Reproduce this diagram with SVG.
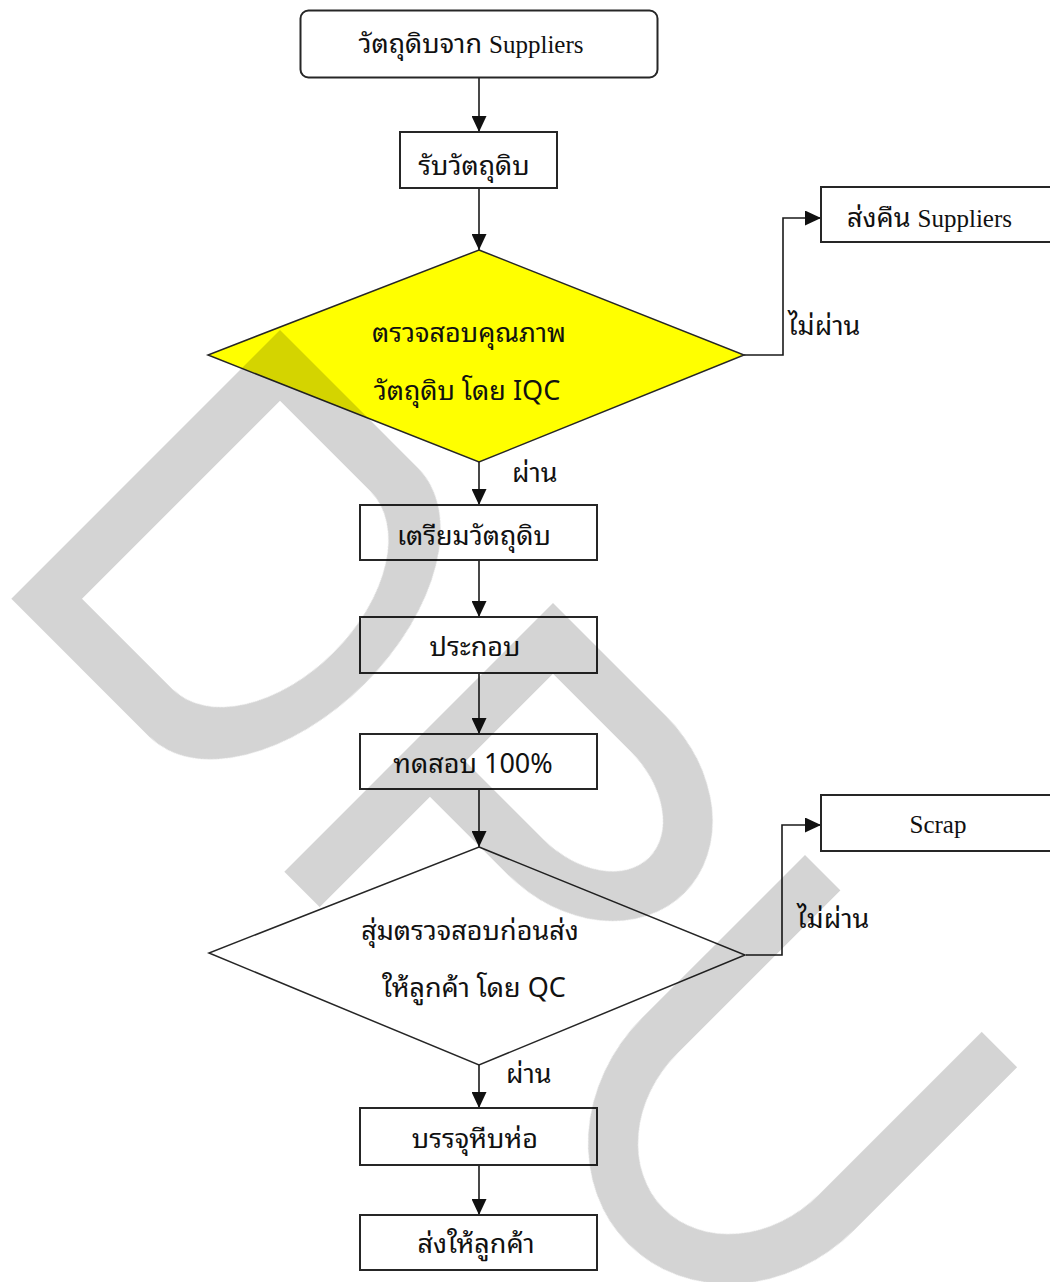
<svg xmlns="http://www.w3.org/2000/svg" width="1050" height="1282" viewBox="0 0 1050 1282">
  <defs>
    <marker id="arrow" markerUnits="userSpaceOnUse" markerWidth="16" markerHeight="15" refX="16" refY="7.5" orient="auto">
      <path d="M0,0 L16,7.5 L0,15 Z" fill="#111"/>
    </marker>
    <style>
      .box { fill: #ffffff; stroke: #262626; stroke-width: 2; }
      .dec { stroke: #262626; stroke-width: 1.5; }
      .wire { fill: none; stroke: #1a1a1a; stroke-width: 1.6; }
      .th { font-family: "Noto Sans Thai Looped", "Loma", "Garuda", "Noto Serif Thai", "Noto Sans Thai", "Noto Sans", sans-serif; font-size: 27px; fill: #111; }
      .lat { font-family: "Liberation Serif", serif; font-size: 25px; fill: #111; }
      .mid { text-anchor: middle; }
      .wm { fill: #d4d4d4; mix-blend-mode: multiply; }
    </style>
  </defs>

  <rect width="1050" height="1282" fill="#ffffff"/>

  <!-- connectors -->
  <g id="connectors">
    <path class="wire" d="M479,78 V132" marker-end="url(#arrow)"/>
    <path class="wire" d="M479,188 V250" marker-end="url(#arrow)"/>
    <path class="wire" d="M744,355 H783 V218 H821" marker-end="url(#arrow)"/>
    <path class="wire" d="M479,462 V505" marker-end="url(#arrow)"/>
    <path class="wire" d="M479,560 V617" marker-end="url(#arrow)"/>
    <path class="wire" d="M479,673 V734" marker-end="url(#arrow)"/>
    <path class="wire" d="M479,789 V847" marker-end="url(#arrow)"/>
    <path class="wire" d="M746,955 H782 V825 H821" marker-end="url(#arrow)"/>
    <path class="wire" d="M479,1065 V1108" marker-end="url(#arrow)"/>
    <path class="wire" d="M479,1165 V1215" marker-end="url(#arrow)"/>
    <text class="th" x="788" y="335">ไม่ผ่าน</text>
    <text class="th" x="512" y="482">ผ่าน</text>
    <text class="th" x="797" y="928">ไม่ผ่าน</text>
    <text class="th" x="506" y="1083">ผ่าน</text>
  </g>

  <!-- nodes -->
  <g id="start">
    <rect class="box" x="300.5" y="10.5" width="357" height="67" rx="8"/>
    <text class="th mid" x="471" y="53">วัตถุดิบจาก <tspan class="lat">Suppliers</tspan></text>
  </g>

  <g id="receive">
    <rect class="box" x="400" y="132" width="157" height="56"/>
    <text class="th mid" x="474" y="175">รับวัตถุดิบ</text>
  </g>

  <g id="iqc-check">
    <polygon class="dec" fill="#ffff00" points="479,250 744,355 479,462 208,355"/>
    <text class="th mid" x="469" y="342">ตรวจสอบคุณภาพ</text>
    <text class="th mid" x="467" y="400">วัตถุดิบ โดย IQC</text>
  </g>

  <g id="return-supplier">
    <rect class="box" x="821" y="187" width="260" height="55"/>
    <text class="th" x="847" y="227">ส่งคืน <tspan class="lat">Suppliers</tspan></text>
  </g>

  <g id="prepare">
    <rect class="box" x="360" y="505" width="237" height="55"/>
    <text class="th mid" x="474" y="545">เตรียมวัตถุดิบ</text>
  </g>

  <g id="assemble">
    <rect class="box" x="360" y="617" width="237" height="56"/>
    <text class="th mid" x="475" y="656">ประกอบ</text>
  </g>

  <g id="test">
    <rect class="box" x="360" y="734" width="237" height="55"/>
    <text class="th mid" x="473" y="773">ทดสอบ 100%</text>
  </g>

  <g id="qc-check">
    <polygon class="dec" fill="#ffffff" points="479,847 745,955 479,1065 209,953"/>
    <text class="th mid" x="470" y="940">สุ่มตรวจสอบก่อนส่ง</text>
    <text class="th mid" x="474" y="997">ให้ลูกค้า โดย QC</text>
  </g>

  <g id="scrap">
    <rect class="box" x="821" y="795" width="260" height="56"/>
    <text class="lat mid" x="938" y="833">Scrap</text>
  </g>

  <g id="pack">
    <rect class="box" x="360" y="1108" width="237" height="57"/>
    <text class="th mid" x="475" y="1148">บรรจุหีบห่อ</text>
  </g>

  <g id="ship">
    <rect class="box" x="360" y="1215" width="237" height="55"/>
    <text class="th mid" x="476" y="1253">ส่งให้ลูกค้า</text>
  </g>

  <!-- diagonal DPU watermark laid over the chart -->
  <g id="watermark" class="wm" fill-rule="evenodd">
    <path transform="translate(280,330) rotate(45)" d="M0,0 H195 A115,190 0 0 1 195,380 H0 Z M50,50 H178 A88,140 0 0 1 178,330 H50 Z"/>
    <path transform="translate(553,603) rotate(45)" d="M0,0 H160 A138,112 0 0 1 160,224 H50 V380 H0 Z M50,50 H160 A88,62 0 0 1 160,174 H50 Z"/>
    <path transform="translate(805,855) rotate(45)" d="M0,0 V230 A150,170 0 0 0 300,230 V0 H250 V230 A100,120 0 0 1 50,230 V0 Z"/>
  </g>
</svg>
